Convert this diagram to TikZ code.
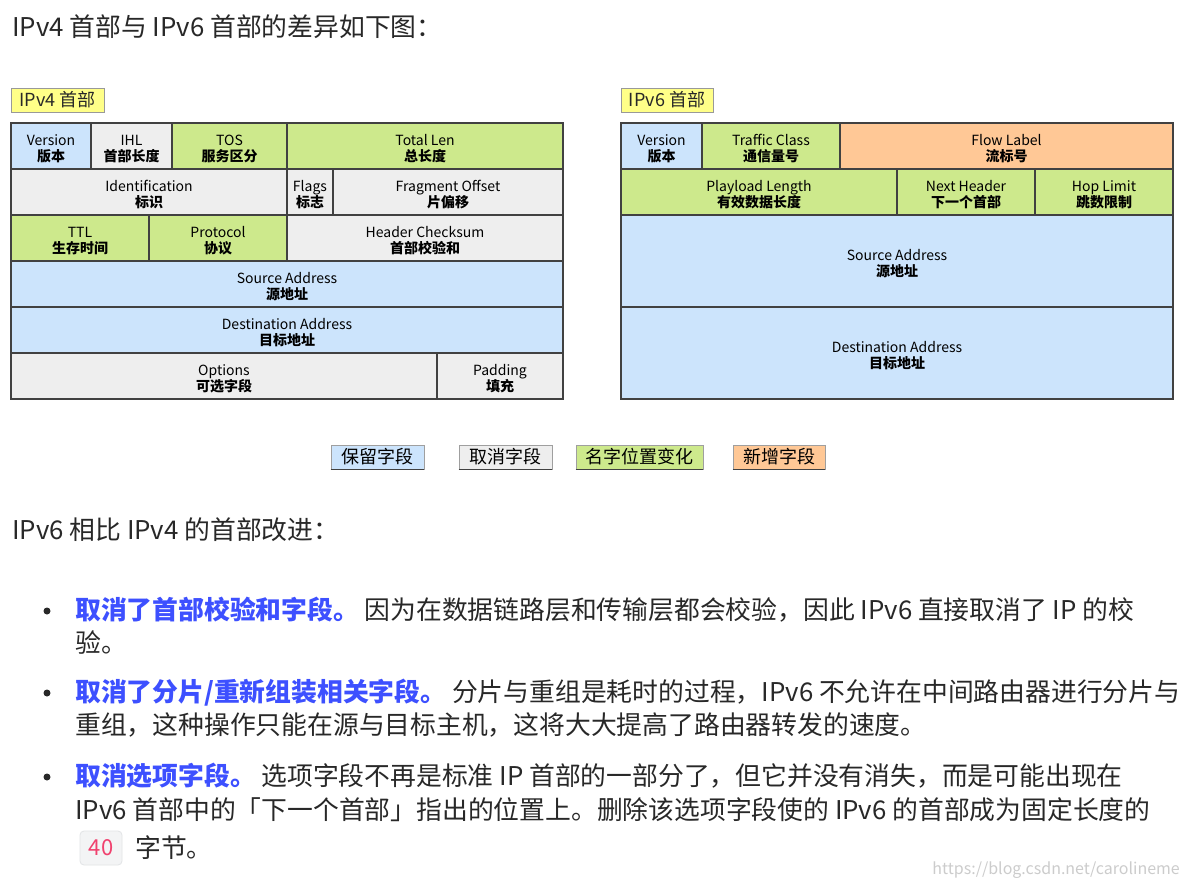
\documentclass[tikz,border=0pt]{standalone}
\usepackage{fontspec}
\setmainfont{Noto Sans CJK SC}
\definecolor{cblue}{RGB}{204,228,252}
\definecolor{cgray}{RGB}{238,238,238}
\definecolor{cgreen}{RGB}{205,233,140}
\definecolor{corange}{RGB}{255,200,150}
\definecolor{cyellow}{RGB}{255,255,136}
\definecolor{cline}{RGB}{65,65,65}
\definecolor{bodytext}{RGB}{40,40,40}
\definecolor{hiblue}{RGB}{61,80,255}
\definecolor{codepink}{RGB}{240,65,110}
\definecolor{codebg}{RGB}{243,244,245}
\definecolor{codeborder}{RGB}{226,228,230}
\newcommand\lbl[2]{\rule{0pt}{17pt}#1\\\textbf{#2}}
\begin{document}
\begin{tikzpicture}[x=1pt,y=-1pt,
  cell/.style={draw=cline, line width=1.3pt, inner sep=0pt, align=center,
    font=\fontsize{14}{16}\selectfont, text=black},
  tag/.style={draw=gray!80, line width=0.8pt, fill=cyellow, inner sep=0pt,
    minimum height=24pt, font=\fontsize{18}{20}\selectfont, text=bodytext},
  legend/.style={draw=gray!75, line width=0.8pt, inner sep=0pt, minimum height=24pt,
    font=\fontsize{18}{20}\selectfont, text=black},
  body/.style={anchor=base west, inner sep=0pt, text=bodytext, font=\fontsize{25.8}{30}\selectfont},
  bulletdot/.style={circle, fill=bodytext, inner sep=0pt, minimum size=7pt},
  codebox/.style={draw=codeborder, fill=codebg, rounded corners=4pt, line width=0.8pt,
    inner sep=0pt, minimum width=42pt, minimum height=34pt, text=codepink,
    font=\fontsize{22}{24}\selectfont},
  wmark/.style={anchor=base east, inner sep=0pt, text=gray!40, font=\fontsize{16}{18}\selectfont}
]
\useasboundingbox[fill=white] (0,0) rectangle (1189,886);

% heading
\node[body] (head1) at (12,36) {IPv4 首部与 IPv6 首部的差异如下图：};

% tags
\node[tag, minimum width=93pt] (tag4) at (57.5,100) {IPv4 首部};
\node[tag, minimum width=92pt] (tag6) at (667,100) {IPv6 首部};

% IPv4 header
\node[cell, fill=cblue,  minimum width=80pt,  minimum height=46pt] (v4ver)  at (51,146)   {\lbl{Version}{版本}};
\node[cell, fill=cgray,  minimum width=81pt,  minimum height=46pt] (v4ihl)  at (131.5,146){\lbl{IHL}{首部长度}};
\node[cell, fill=cgreen, minimum width=115pt, minimum height=46pt] (v4tos)  at (229.5,146){\lbl{TOS}{服务区分}};
\node[cell, fill=cgreen, minimum width=276pt, minimum height=46pt] (v4len)  at (425,146)  {\lbl{Total Len}{总长度}};
\node[cell, fill=cgray,  minimum width=276pt, minimum height=46pt] (v4id)   at (149,192)  {\lbl{Identification}{标识}};
\node[cell, fill=cgray,  minimum width=46pt,  minimum height=46pt] (v4flag) at (310,192)  {\lbl{Flags}{标志}};
\node[cell, fill=cgray,  minimum width=230pt, minimum height=46pt] (v4frag) at (448,192)  {\lbl{Fragment Offset}{片偏移}};
\node[cell, fill=cgreen, minimum width=138pt, minimum height=46pt] (v4ttl)  at (80,238)   {\lbl{TTL}{生存时间}};
\node[cell, fill=cgreen, minimum width=138pt, minimum height=46pt] (v4prot) at (218,238)  {\lbl{Protocol}{协议}};
\node[cell, fill=cgray,  minimum width=276pt, minimum height=46pt] (v4chk)  at (425,238)  {\lbl{Header Checksum}{首部校验和}};
\node[cell, fill=cblue,  minimum width=552pt, minimum height=46pt] (v4src)  at (287,284)  {\lbl{Source Address}{源地址}};
\node[cell, fill=cblue,  minimum width=552pt, minimum height=46pt] (v4dst)  at (287,330)  {\lbl{Destination Address}{目标地址}};
\node[cell, fill=cgray,  minimum width=426pt, minimum height=46pt] (v4opt)  at (224,376)  {\lbl{Options}{可选字段}};
\node[cell, fill=cgray,  minimum width=126pt, minimum height=46pt] (v4pad)  at (500,376)  {\lbl{Padding}{填充}};

% IPv6 header
\node[cell, fill=cblue,   minimum width=81pt,  minimum height=46pt] (v6ver)  at (661.5,146) {\lbl{Version}{版本}};
\node[cell, fill=cgreen,  minimum width=138pt, minimum height=46pt] (v6tc)   at (771,146)   {\lbl{Traffic Class}{通信量号}};
\node[cell, fill=corange, minimum width=333pt, minimum height=46pt] (v6flow) at (1006.5,146){\lbl{Flow Label}{流标号}};
\node[cell, fill=cgreen,  minimum width=276pt, minimum height=46pt] (v6plen) at (759,192)   {\lbl{Playload Length}{有效数据长度}};
\node[cell, fill=cgreen,  minimum width=138pt, minimum height=46pt] (v6next) at (966,192)   {\lbl{Next Header}{下一个首部}};
\node[cell, fill=cgreen,  minimum width=138pt, minimum height=46pt] (v6hop)  at (1104,192)  {\lbl{Hop Limit}{跳数限制}};
\node[cell, fill=cblue,   minimum width=552pt, minimum height=92pt] (v6src)  at (897,261)   {\lbl{Source Address}{源地址}};
\node[cell, fill=cblue,   minimum width=552pt, minimum height=92pt] (v6dst)  at (897,353)   {\lbl{Destination Address}{目标地址}};

% legend
\node[legend, fill=cblue,   minimum width=93pt]  (lg1) at (377.5,457) {保留字段};
\node[legend, fill=cgray,   minimum width=93pt]  (lg2) at (505.5,457) {取消字段};
\node[legend, fill=cgreen,  minimum width=127pt] (lg3) at (639.5,457) {名字位置变化};
\node[legend, fill=corange, minimum width=92pt]  (lg4) at (779,457)   {新增字段};
\foreach \n in {lg1,lg2,lg3,lg4}
  \draw[cline, line width=1.6pt] (\n.south west) -- (\n.south east);

% improvements
\node[body] (head2) at (12,539) {IPv6 相比 IPv4 的首部改进：};

\node[bulletdot] (d1) at (47,611) {};
\node[body] (b1a) at (75,619) {{\bfseries\color{hiblue}取消了首部校验和字段。} 因为在数据链路层和传输层都会校验，因此 IPv6 直接取消了 IP 的校};
\node[body] (b1b) at (75,652) {验。};

\node[bulletdot] (d2) at (47,693) {};
\node[body] (b2a) at (75,701) {{\bfseries\color{hiblue}取消了分片/重新组装相关字段。} 分片与重组是耗时的过程，IPv6 不允许在中间路由器进行分片与};
\node[body] (b2b) at (75,734) {重组，这种操作只能在源与目标主机，这将大大提高了路由器转发的速度。};

\node[bulletdot] (d3) at (47,777) {};
\node[body] (b3a) at (75,785) {{\bfseries\color{hiblue}取消选项字段。} 选项字段不再是标准 IP 首部的一部分了，但它并没有消失，而是可能出现在};
\node[body] (b3b) at (75,819) {IPv6 首部中的「下一个首部」指出的位置上。删除该选项字段使的 IPv6 的首部成为固定长度的};
\node[codebox] (n40) at (101,848) {40};
\node[body] (b3c) at (135,857) {字节。};

\node[wmark] (wm) at (1180,874) {https://blog.csdn.net/carolineme};
\end{tikzpicture}
\end{document}
